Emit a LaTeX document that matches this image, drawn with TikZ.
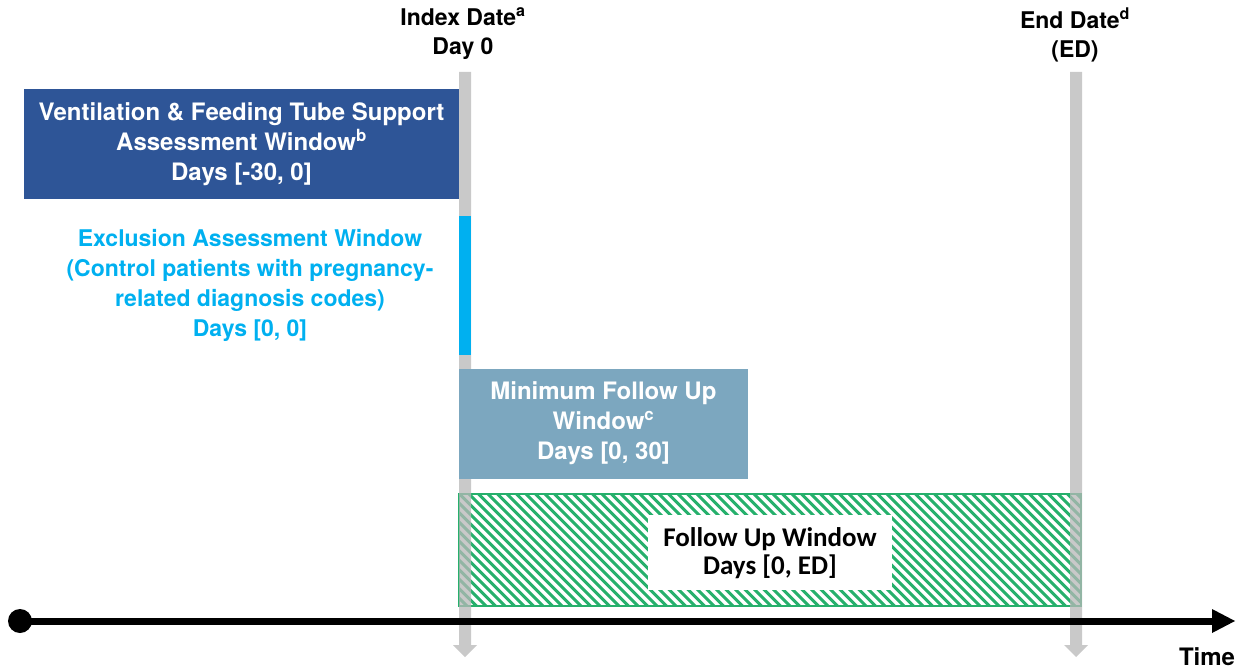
\documentclass[tikz,border=0pt]{standalone}
\usepackage{fontspec}
\setmainfont{TeX Gyre Heros}
\newfontfamily\calib{Carlito}
\definecolor{navy}{RGB}{46,85,151}
\definecolor{sky}{RGB}{0,176,240}
\definecolor{steel}{RGB}{124,167,191}
\definecolor{hatchgreen}{RGB}{38,176,108}
\definecolor{bargray}{RGB}{183,183,183}
\tikzset{
  lbl/.style={font=\bfseries\fontsize{24}{30}\selectfont, align=center, inner sep=0pt},
  hdr/.style={font=\bfseries\fontsize{23}{29}\selectfont, align=center, inner sep=0pt},
  datebar/.style={fill=bargray, fill opacity=0.75, draw=none},
}
\begin{document}
\begin{tikzpicture}[x=1pt,y=-1pt]
\useasboundingbox (0,0) rectangle (1245,669);

% follow-up window: green hatching clipped to its frame
\begin{scope}
  \clip (459,494) rectangle (1081,606);
  \foreach \s in {-120,-110.5,...,1090}
    \draw[hatchgreen, line width=3pt] (\s,494) -- (\s+112,606);
\end{scope}
\draw[hatchgreen, line width=1.5pt] (459,494) rectangle (1081,606);

% vertical date markers with downward arrowheads
\coordinate (idx) at (465,657);
\coordinate (edt) at (1076,657);
\fill[datebar] (459,72) -- (471,72) -- (471,645) -- (477,645) -- (idx) -- (453,645) -- (459,645) -- cycle;
\fill[datebar] (1070,72) -- (1082,72) -- (1082,645) -- (1088,645) -- (edt) -- (1064,645) -- (1070,645) -- cycle;

% assessment windows
\fill[navy] (24,89) rectangle (459,199);
\node[lbl, text=white] (vent) at (241.5,144) {Ventilation \& Feeding Tube Support\\Assessment Window\textsuperscript{b}\\Days [-30, 0]};

\fill[sky] (459,216) rectangle (471,355);
\node[lbl, text=sky, font=\bfseries\fontsize{23}{30}\selectfont] (excl) at (250,285) {Exclusion Assessment Window\\(Control patients with pregnancy-\\related diagnosis codes)\\Days [0, 0]};

\fill[steel] (459,369) rectangle (748,479);
\node[lbl, text=white] (minfu) at (603.5,423) {Minimum Follow Up\\Window\textsuperscript{c}\\Days [0, 30]};

\fill[white] (648,515) rectangle (892,590);
\node[lbl, font=\calib\bfseries\fontsize{27}{28}\selectfont] (fu) at (770,553) {Follow Up Window\\Days [0, ED]};

% date headings
\node[hdr] (idxlbl) at (463,34) {Index Date\textsuperscript{a}\\Day 0};
\node[hdr] (edlbl) at (1075,35) {End Date\textsuperscript{d}\\(ED)};

% time axis
\coordinate (t0) at (20,621);
\coordinate (t1) at (1213,621);
\coordinate (t2) at (1235,621);
\draw[line width=7pt] (t0) -- (t1);
\fill (t0) circle (12);
\fill (1212,609) -- (t2) -- (1212,633) -- cycle;
\node[hdr, font=\bfseries\fontsize{24}{29}\selectfont] (time) at (1207,657) {Time};
\end{tikzpicture}
\end{document}
